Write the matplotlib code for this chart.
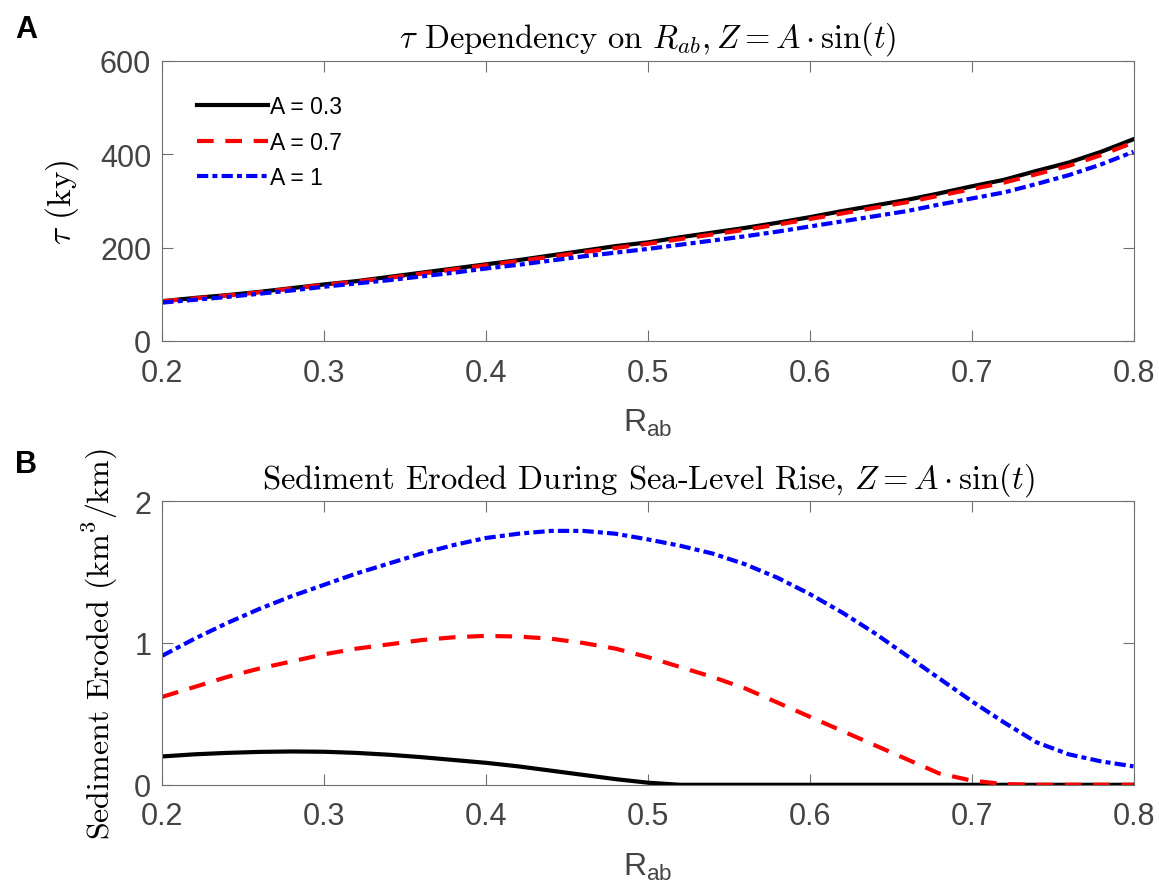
import matplotlib
matplotlib.use("Agg")
import matplotlib.pyplot as plt
import numpy as np

plt.rcParams['font.family'] = ['Liberation Sans', 'DejaVu Sans']
plt.rcParams['mathtext.fontset'] = 'cm'
plt.rcParams['mathtext.rm'] = 'Liberation Sans'
plt.rcParams['axes.unicode_minus'] = False

# panel A: tau vs R_ab
r_tau = [0.20, 0.22, 0.24, 0.26, 0.28, 0.30, 0.32, 0.34, 0.36, 0.38, 0.40,
         0.42, 0.44, 0.46, 0.48, 0.50, 0.52, 0.54, 0.56, 0.58, 0.60, 0.62,
         0.64, 0.66, 0.68, 0.70, 0.72, 0.74, 0.76, 0.78, 0.80]
tau_03 = [85, 92, 98, 105, 113, 121, 128, 137, 146, 155, 164,
          173, 183, 193, 203, 211, 222, 232, 242, 253, 265, 278,
          290, 302, 316, 331, 345, 364, 382, 405, 432]
tau_07 = [85, 91, 97, 104, 112, 120, 127, 135, 144, 153, 162,
          171, 180, 190, 199, 208, 218, 228, 238, 249, 261, 273,
          285, 297, 311, 325, 339, 357, 375, 398, 425]
tau_1 = [82, 88, 94, 101, 108, 116, 123, 130, 138, 146, 155,
         163, 172, 181, 189, 197, 206, 215, 224, 234, 245, 256,
         267, 278, 292, 305, 318, 336, 355, 378, 405]

# panel B: sediment eroded vs R_ab
r_sed = [0.20, 0.22, 0.24, 0.26, 0.28, 0.30, 0.32, 0.34, 0.36, 0.38, 0.40,
         0.42, 0.44, 0.46, 0.48, 0.50, 0.52, 0.54, 0.56, 0.58, 0.60, 0.62,
         0.64, 0.66, 0.68, 0.70, 0.72, 0.74, 0.76, 0.78, 0.80]
sed_03 = [0.20, 0.215, 0.225, 0.232, 0.235, 0.233, 0.225, 0.212, 0.195, 0.175, 0.155,
          0.13, 0.10, 0.07, 0.04, 0.015, 0.0, 0.0, 0.0, 0.0, 0.0, 0.0,
          0.0, 0.0, 0.0, 0.0, 0.0, 0.0, 0.0, 0.0, 0.0]
sed_07 = [0.62, 0.69, 0.76, 0.82, 0.87, 0.92, 0.96, 0.99, 1.02, 1.04, 1.05,
          1.045, 1.03, 1.0, 0.96, 0.90, 0.83, 0.76, 0.68, 0.58, 0.48, 0.38,
          0.28, 0.18, 0.08, 0.03, 0.005, 0.0, 0.0, 0.0, 0.0]
sed_1 = [0.91, 1.03, 1.14, 1.24, 1.33, 1.41, 1.49, 1.56, 1.63, 1.69, 1.74,
         1.77, 1.79, 1.79, 1.77, 1.73, 1.685, 1.63, 1.555, 1.46, 1.345, 1.215,
         1.07, 0.91, 0.75, 0.59, 0.44, 0.30, 0.215, 0.165, 0.13]

labels = ['A = 0.3', 'A = 0.7', 'A = 1']
colors = ['black', 'red', 'blue']
styles = ['-', (0, (4, 2.8)), (0, (2.7, 1.0, 1.2, 1.0))]

fig = plt.figure(figsize=(11.59, 8.95), dpi=100)
ax1 = fig.add_axes([0.140, 0.618, 0.838, 0.313])
ax2 = fig.add_axes([0.140, 0.122, 0.838, 0.317])

for y, lab, c, ls in zip([tau_03, tau_07, tau_1], labels, colors, styles):
    ax1.plot(r_tau, y, color=c, linestyle=ls, lw=3, label=lab)
for y, lab, c, ls in zip([sed_03, sed_07, sed_1], labels, colors, styles):
    ax2.plot(r_sed, y, color=c, linestyle=ls, lw=3, label=lab)

grey = '#444444'
for ax in (ax1, ax2):
    ax.set_xlim(0.2, 0.8)
    ax.set_xticks([0.2, 0.3, 0.4, 0.5, 0.6, 0.7, 0.8])
    ax.tick_params(direction='in', top=True, right=True, length=8,
                   labelsize=22, colors='#707070', labelcolor=grey)
    ax.tick_params(axis='x', pad=12)
    ax.tick_params(axis='y', pad=8)
    for s in ax.spines.values():
        s.set_color('#707070')
    ax.set_xlabel(r'R$_{\mathrm{ab}}$', fontsize=23, color=grey, labelpad=14,
                  math_fontfamily='custom')

ax1.set_ylim(0, 600)
ax1.set_yticks([0, 200, 400, 600])
ax2.set_ylim(0, 2)
ax2.set_yticks([0, 1, 2])

ax1.set_title(r'$\tau$ Dependency on $R_{ab}, Z = A\cdot\sin(t)$',
              fontfamily='cmr10', fontsize=23.5, pad=10)
ax2.set_title(r'Sediment Eroded During Sea-Level Rise, $Z = A\cdot\sin(t)$',
              fontfamily='cmr10', fontsize=23.5, pad=10)
ax1.set_ylabel(r'$\tau$ (ky)', fontfamily='cmr10', fontsize=24)
ax2.set_ylabel(r'Sediment Eroded (km$^3$/km)', fontfamily='cmr10', fontsize=23)
ax1.yaxis.set_label_coords(-0.084, 0.5)
ax2.yaxis.set_label_coords(-0.043, 0.5)

ax1.legend(loc='upper left', frameon=False, fontsize=16.5, handlelength=3.1,
           handletextpad=0.1, borderaxespad=1.1, labelspacing=0.55)

fig.text(0.013, 0.958, 'A', fontsize=22, fontweight='bold')
fig.text(0.013, 0.472, 'B', fontsize=22, fontweight='bold')

fig.savefig('out.png', dpi=100)
